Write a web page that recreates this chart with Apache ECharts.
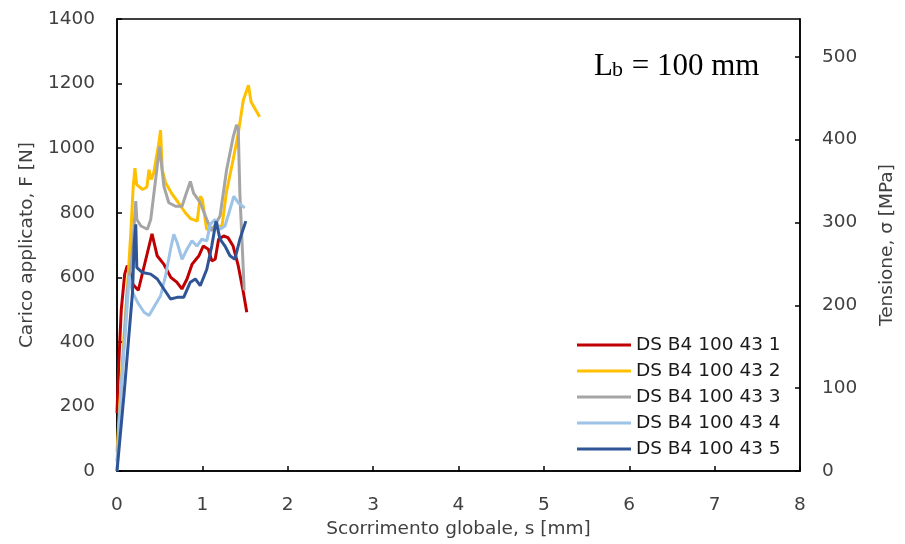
<!DOCTYPE html>
<html>
<head>
<meta charset="utf-8">
<script src="https://cdn.jsdelivr.net/npm/echarts@6/dist/echarts.min.js"></script>
<style>html,body{margin:0;padding:0;background:#fff}#c{width:905px;height:544px}</style>
</head>
<body>
<div id="c"></div>
<script>
// ---- data (s [mm], F [N]) ----
const seriesNames = ['DS B4 100 43 1','DS B4 100 43 2','DS B4 100 43 3','DS B4 100 43 4','DS B4 100 43 5'];
const seriesColors = ['#C00000','#FFC000','#A5A5A5','#9DC3E6','#2F5597'];

const test1 = [[0,180],[0.02,330],[0.05,500],[0.09,610],[0.12,636],[0.15,620],[0.18,580],[0.25,560],[0.3,615],[0.41,735],[0.47,667],[0.55,640],[0.63,600],[0.7,585],[0.76,564],[0.82,595],[0.88,641],[0.96,667],[1.01,697],[1.07,687],[1.11,651],[1.15,656],[1.19,718],[1.25,728],[1.3,723],[1.36,697],[1.42,636],[1.48,554],[1.52,492]];
const test2 = [[0,60],[0.06,330],[0.12,560],[0.16,730],[0.19,882],[0.21,938],[0.23,887],[0.3,872],[0.35,880],[0.375,933],[0.4,903],[0.43,923],[0.49,1015],[0.51,1056],[0.53,933],[0.57,892],[0.65,856],[0.72,831],[0.8,800],[0.86,782],[0.94,774],[0.975,851],[1.0,841],[1.05,749],[1.15,755],[1.23,759],[1.28,861],[1.36,964],[1.42,1046],[1.48,1149],[1.54,1195],[1.57,1144],[1.67,1097]];
const test3 = [[0,30],[0.06,300],[0.12,560],[0.17,650],[0.2,759],[0.22,836],[0.232,779],[0.28,759],[0.356,749],[0.395,779],[0.433,861],[0.499,1005],[0.549,882],[0.607,831],[0.685,820],[0.762,820],[0.8,851],[0.859,897],[0.897,861],[0.975,831],[1.052,779],[1.11,744],[1.207,790],[1.284,933],[1.362,1036],[1.4,1072],[1.42,1062],[1.439,861],[1.49,560]];
const test4 = [[0,0],[0.046,246],[0.104,451],[0.143,605],[0.182,554],[0.24,523],[0.317,492],[0.375,482],[0.433,508],[0.511,543],[0.569,605],[0.627,687],[0.665,733],[0.704,708],[0.762,656],[0.82,687],[0.878,713],[0.936,697],[0.994,718],[1.052,713],[1.091,764],[1.149,779],[1.207,749],[1.265,759],[1.323,810],[1.369,851],[1.42,831],[1.497,815]];
const test5 = [[0,0],[0.085,246],[0.143,431],[0.182,554],[0.2,700],[0.22,764],[0.232,630],[0.298,615],[0.395,610],[0.472,595],[0.549,564],[0.627,533],[0.704,538],[0.781,538],[0.859,585],[0.917,595],[0.975,574],[1.052,625],[1.11,697],[1.16,774],[1.207,718],[1.265,697],[1.323,667],[1.381,656],[1.439,718],[1.509,774]];

const xMax = 8, xStep = 1;
const fMax = 1400, fStep = 200;
const sigmaMax = 545.6, sigmaStep = 100;   // right axis (MPa) spanning same height as 0..1400 N

const allData = [test1, test2, test3, test4, test5];

const FONT = 'DejaVu Sans';
const txt = '#404040';

const chart = echarts.init(document.getElementById('c'), null, {renderer: 'canvas'});
chart.setOption({
  backgroundColor: '#fff',
  animation: false,
  grid: {left: 117, right: 100, top: 19, bottom: 70, show: true, borderColor: '#000', borderWidth: 1.5, backgroundColor: 'transparent'},
  legend: {
    data: seriesNames,
    orient: 'vertical',
    left: 572, top: 330,
    icon: 'rect', itemWidth: 54, itemHeight: 3, itemGap: 6,
    textStyle: {fontFamily: FONT, fontSize: 18.5, color: '#1a1a1a', lineHeight: 20}
  },
  xAxis: {
    type: 'value', min: 0, max: xMax, interval: xStep,
    name: 'Scorrimento globale, s [mm]', nameLocation: 'middle', nameGap: 41,
    nameTextStyle: {fontFamily: FONT, fontSize: 18.5, color: txt},
    axisLine: {lineStyle: {color: '#000', width: 1.5}},
    axisTick: {inside: true, length: 5, lineStyle: {color: '#000', width: 1.5}},
    axisLabel: {fontFamily: FONT, fontSize: 18.5, color: txt, margin: 25, formatter: v => String(v)},
    splitLine: {show: false}
  },
  yAxis: [{
    type: 'value', min: 0, max: fMax, interval: fStep, position: 'left',
    name: 'Carico applicato, F [N]', nameLocation: 'middle', nameGap: 65, nameRotate: 90,
    nameTextStyle: {fontFamily: FONT, fontSize: 18.5, color: txt},
    axisLine: {show: true, lineStyle: {color: '#000', width: 1.5}},
    axisTick: {show: true, inside: true, length: 5, lineStyle: {color: '#000', width: 1.5}},
    axisLabel: {fontFamily: FONT, fontSize: 18.5, color: txt, margin: 22, formatter: v => String(v)},
    splitLine: {show: false}
  }, {
    type: 'value', min: 0, max: sigmaMax, interval: sigmaStep, position: 'right',
    name: 'Tensione, σ [MPa]', nameLocation: 'middle', nameGap: 78, nameRotate: 90,
    nameTextStyle: {fontFamily: FONT, fontSize: 18.5, color: txt},
    axisLine: {show: true, lineStyle: {color: '#000', width: 1.5}},
    axisTick: {show: true, inside: true, length: 5, lineStyle: {color: '#000', width: 1.5}},
    axisLabel: {fontFamily: FONT, fontSize: 18.5, color: txt, margin: 22, showMaxLabel: false,
      formatter: v => (Math.abs(v % sigmaStep) < 1e-6 ? String(v) : '')},
    splitLine: {show: false}
  }],
  graphic: [
    {type: 'text', left: 594, top: 51, style: {text: 'L', font: '31px "Liberation Serif"', fill: '#000'}},
    {type: 'text', left: 612, top: 59, style: {text: 'b', font: '22px "Liberation Serif"', fill: '#000'}},
    {type: 'text', left: 624, top: 51, style: {text: ' = 100 mm', font: '31px "Liberation Serif"', fill: '#000'}}
  ],
  series: allData.map((d, i) => ({
    name: seriesNames[i], type: 'line', data: d, yAxisIndex: 0,
    showSymbol: false, symbol: 'none',
    lineStyle: {color: seriesColors[i], width: 3},
    itemStyle: {color: seriesColors[i]}
  }))
});
</script>
</body>
</html>
